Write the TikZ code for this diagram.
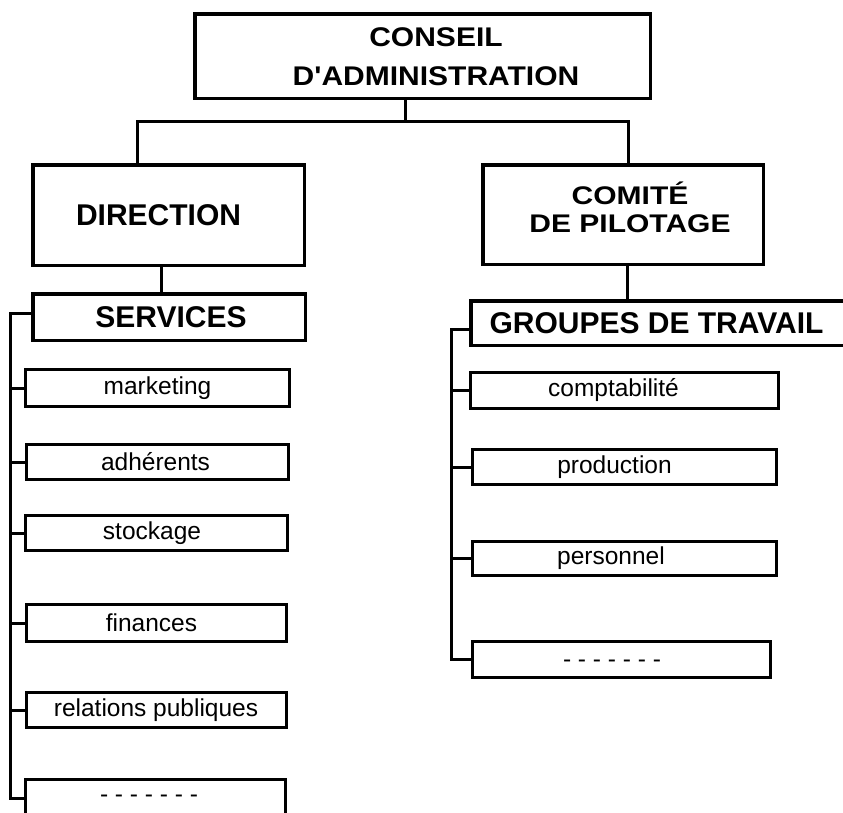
\documentclass[tikz,border=0pt]{standalone}
\usepackage{fontspec}
\setmainfont{Liberation Sans}
\usepackage{graphicx}

\tikzset{
  bigbox/.style={draw, line width=3.5pt, inner sep=0pt},
  smallbox/.style={draw, line width=3pt, inner sep=0pt},
  conn/.style={line width=3pt},
  bigtxt/.style={font=\fontsize{30}{36}\selectfont\bfseries, inner sep=0pt},
  smalltxt/.style={font=\fontsize{24.5}{28}\selectfont, inner sep=0pt}
}
% squeezed two-line title: factor, line skip, text
\newcommand{\squash}[3]{\scalebox{1}[#1]{\fontsize{30}{#2}\selectfont\begin{tabular}{@{}c@{}}#3\end{tabular}}}

\begin{document}
\begin{tikzpicture}[x=1pt, y=-1pt]
      \useasboundingbox (0,0) rectangle (843,812);

      % top levels
      \node[bigbox, minimum width=455.5pt, minimum height=84.5pt] (conseil) at (422.5,56) {};
      \node[bigbox, minimum width=271.5pt, minimum height=100.5pt] (direction) at (168.5,215) {};
      \node[bigbox, minimum width=280.5pt, minimum height=99.5pt] (comite) at (623,214.5) {};
      \node[bigbox, minimum width=272.5pt, minimum height=46.5pt] (services) at (169,317) {};
      \node[bigbox, minimum width=373.5pt, minimum height=44.5pt] (groupes) at (657.5,323) {};

      \node[bigtxt] (conseil-t) at ([xshift=13.5pt, yshift=-2pt]conseil.center) {\squash{0.9}{43}{CONSEIL\\D\textquotesingle ADMINISTRATION}};
      \node[bigtxt] (direction-t) at ([xshift=-10pt]direction.center) {DIRECTION};
      \node[bigtxt] (comite-t) at ([xshift=7pt, yshift=3pt]comite.center) {\squash{0.85}{33}{COMIT\'E\\DE PILOTAGE}};
      \node[bigtxt] (services-t) at ([xshift=2pt]services.center) {SERVICES};
      \node[bigtxt] (groupes-t) at ([xshift=-1pt]groupes.center) {GROUPES DE TRAVAIL};

      % services
      \node[smallbox, minimum width=264pt, minimum height=37pt] (marketing) at (157.5,388) {};
      \node[smallbox, minimum width=262pt, minimum height=35pt] (adherents) at (157.5,462) {};
      \node[smallbox, minimum width=262pt, minimum height=35pt] (stockage) at (156.5,533) {};
      \node[smallbox, minimum width=260pt, minimum height=37pt] (finances) at (156,623) {};
      \node[smallbox, minimum width=260pt, minimum height=35pt] (relations) at (156,710) {};
      \node[smallbox, minimum width=260pt, minimum height=37pt] (dotsL) at (155.5,798) {};

      \node[smalltxt] (marketing-t) at (marketing.center) {marketing};
      \node[smalltxt] (adherents-t) at ([xshift=-2pt]adherents.center) {adhérents};
      \node[smalltxt] (stockage-t) at ([xshift=-4.5pt]stockage.center) {stockage};
      \node[smalltxt] (finances-t) at ([xshift=-4.5pt]finances.center) {finances};
      \node[smalltxt] (relations-t) at (relations.center) {relations publiques};
      \node[smalltxt] (dotsL-t) at ([xshift=-6.5pt, yshift=-1pt]dotsL.center) {- - - - - - -};

      % groupes de travail
      \node[smallbox, minimum width=308pt, minimum height=36pt] (compta) at (624.5,390.5) {};
      \node[smallbox, minimum width=304pt, minimum height=35pt] (production) at (624.5,467) {};
      \node[smallbox, minimum width=304pt, minimum height=34pt] (personnel) at (624.5,558.5) {};
      \node[smallbox, minimum width=298pt, minimum height=36pt] (dotsR) at (621.5,659.5) {};

      \node[smalltxt] (compta-t) at ([xshift=-11pt]compta.center) {comptabilité};
      \node[smalltxt] (production-t) at ([xshift=-10pt]production.center) {production};
      \node[smalltxt] (personnel-t) at ([xshift=-13.5pt]personnel.center) {personnel};
      \node[smalltxt] (dotsR-t) at ([xshift=-9.5pt, yshift=-4pt]dotsR.center) {- - - - - - -};

      % connectors
      \coordinate (split) at (405,121);
      \coordinate (splitL) at (137,121);
      \coordinate (splitR) at (628,121);
      \coordinate (busL) at (10,0);
      \coordinate (busR) at (451,0);

      \draw[conn] (conseil.south -| split) -- (split);
      \draw[conn] (direction.north -| splitL) -- (splitL) -- (splitR) -- (comite.north -| splitR);
      \draw[conn] ([xshift=-7.5pt]direction.south) -- ([xshift=-7.5pt]direction.south |- services.north);
      \draw[conn] ([xshift=4pt]comite.south) -- ([xshift=4pt]comite.south |- groupes.north);

      \draw[conn] ([yshift=4pt]services.west) -- ([yshift=4pt]services.west -| busL) -- (dotsL.west -| busL) -- (dotsL.west);
      \foreach \n in {marketing, adherents, stockage, finances, relations}
        \draw[conn] (\n.west) -- (\n.west -| busL);

      \draw[conn] ([yshift=-6pt]groupes.west) -- ([yshift=-6pt]groupes.west -| busR) -- (dotsR.west -| busR) -- (dotsR.west);
      \foreach \n in {compta, production, personnel}
        \draw[conn] (\n.west) -- (\n.west -| busR);
    \end{tikzpicture}
\end{document}
